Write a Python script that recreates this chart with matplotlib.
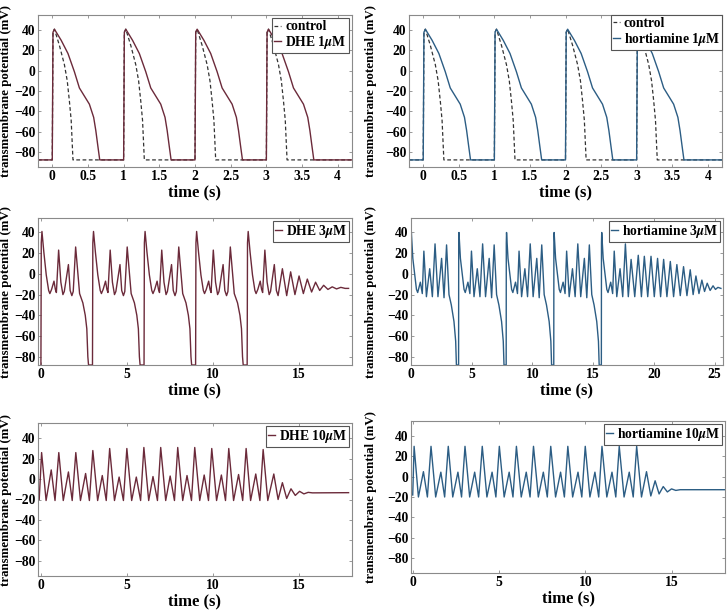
import matplotlib
matplotlib.use("Agg")
import matplotlib.pyplot as plt

plt.rcParams["font.family"] = ["Liberation Serif", "DejaVu Serif"]
plt.rcParams["font.weight"] = "bold"
plt.rcParams["axes.labelweight"] = "bold"
plt.rcParams["mathtext.fontset"] = "stix"

DHE_COLOR = "#6b2a3a"
HORT_COLOR = "#2c5d84"
CTRL_COLOR = "#333333"
REST = -88

# --- 1 uM: paced beats, times relative to beat onset (s), voltage (mV) ---
ONSETS_1UM = [0, 1, 2, 3]
CTRL_T = [0.0, 0.01, 0.03, 0.10, 0.17, 0.21, 0.24, 0.265, 0.29]
CTRL_V = [-88, 38, 41, 25, 6, -10, -30, -49, -88]
DRUG1_T = [0.0, 0.01, 0.03, 0.125, 0.22, 0.31, 0.38, 0.45, 0.52, 0.58, 0.61, 0.64, 0.665]
DRUG1_V = [-88, 38, 41, 30, 17, -1, -17, -25, -33, -46, -59, -75, -88]

# --- DHE 3 uM: beats with EADs every 3 s, last beat decays into oscillation ---
DHE3_ONSETS = [0, 3, 6, 9]
DHE3_LAST = 12
DHE3_T = [0.0, 0.02, 0.06, 0.17, 0.31, 0.45, 0.52, 0.62, 0.76, 0.84, 0.90, 1.03, 1.16, 1.28,
          1.36, 1.60, 1.70, 1.80, 1.88, 2.02, 2.25, 2.44, 2.58, 2.67, 2.73, 2.77]
DHE3_V = [-88, 30, 41, 21, -1, -16, -19, -15, -7, -15, -18, 23, -8, -20,
          -17, 9, -16, -21, -17, 26, -19, -28, -40, -53, -80, -88]
DHE3_TAIL_T = [0.0, 0.02, 0.06, 0.17, 0.31, 0.45, 0.52, 0.62, 0.76, 0.84, 0.90, 1.03, 1.16,
               1.28, 1.36, 1.58, 1.70, 1.80, 2.05, 2.30, 2.53, 2.78, 3.02, 3.27, 3.50,
               3.75, 3.98, 4.22, 4.45, 4.70, 4.95, 5.20, 5.45, 5.70, 5.90]
DHE3_TAIL_V = [-88, 30, 41, 21, -1, -16, -19, -15, -7, -15, -18, 23, -8,
               -20, -17, 9, -16, -21, 5, -21, 2, -20, -2, -19, -5,
               -17.5, -8, -16, -11, -15, -12.5, -14.5, -13, -14, -14]

# --- hortiamine 3 uM ---
HORT3_ONSETS = [0, 3.92, 7.84, 11.76]
HORT3_LAST = 15.68
HORT3_T = [0.0, 0.01, 0.03, 0.15, 0.30, 0.45, 0.55, 0.77, 0.93, 1.06, 1.27, 1.54,
           1.76, 1.98, 2.22, 2.52, 2.72, 2.93, 3.13, 3.32, 3.54, 3.68, 3.74]
HORT3_V = [-88, 30, 40, 15, 0, -15, -18, -8, -19, 22, -22, 5,
           -22, 29, -22, 15, -23, 28, -20, -30, -46, -65, -88]
HORT3_TAIL_T = [0.0, 0.01, 0.03, 0.15, 0.30, 0.45, 0.55, 0.77, 0.93, 1.06, 1.27, 1.54,
                1.76, 1.98, 2.22, 2.45, 2.75, 3.04, 3.30, 3.54, 3.82, 4.09, 4.36, 4.63,
                4.88, 5.13, 5.40, 5.68, 5.95, 6.22, 6.50, 6.77, 7.05, 7.32, 7.56, 7.79,
                8.04, 8.28, 8.50, 8.72, 8.96, 9.20, 9.40, 9.60, 9.85]
HORT3_TAIL_V = [-88, 30, 40, 15, 0, -15, -18, -8, -19, 22, -22, 5,
                -22, 29, -22, 14, -22, 18, -22, 17, -22, 17, -22, 15,
                -22, 14, -22, 12, -22, 9, -21, 7, -21, 4, -20, -2,
                -19, -6, -17, -9, -16, -11.5, -15, -13, -14]

# --- 10 uM: alternating spike / small oscillation, then damped ---
DHE10_T = [-0.1, 0.04, 0.30, 0.60, 0.82, 1.04, 1.30, 1.60, 1.82, 2.03, 2.30, 2.60, 2.82,
           3.02, 3.30, 3.57, 3.80, 4.00, 4.28, 4.55, 4.80, 5.00, 5.28, 5.55, 5.80,
           5.99, 6.27, 6.52, 6.78, 6.97, 7.26, 7.52, 7.77, 7.96, 8.25, 8.50, 8.76,
           8.95, 9.24, 9.50, 9.75, 9.94, 10.22, 10.50, 10.74, 10.93, 11.21, 11.50, 11.74,
           11.94, 12.20, 12.50, 12.74, 12.93, 13.20, 13.55, 13.80, 14.05, 14.30, 14.55,
           14.80, 15.05, 15.30, 15.55, 15.80, 17.90]
DHE10_V = [-20, 26, -21, 9, -21, 26, -21, 7, -21, 26, -21, 5.5, -21,
           28, -21, 3.5, -21, 30, -21, 2, -21, 30, -21, 2, -21,
           31, -21, 2.5, -21, 31, -21, 3, -21, 31, -21, 3.5, -21,
           31, -21, 4, -21, 30, -21, 4, -21, 30, -21, 4.5, -21,
           30, -21, 5, -21, 29, -21, 5, -20, -3.5, -19, -9.5,
           -16, -12, -14.5, -13, -13.5, -13.3]
HORT10_T = [0.0, 0.08, 0.33, 0.62, 0.85, 1.06, 1.33, 1.63, 1.85, 2.06, 2.32, 2.62, 2.83,
            3.03, 3.30, 3.59, 3.82, 4.03, 4.30, 4.60, 4.82, 5.02, 5.30, 5.59, 5.81,
            6.01, 6.29, 6.58, 6.80, 7.00, 7.28, 7.57, 7.80, 8.00, 8.28, 8.57, 8.79,
            8.99, 9.27, 9.58, 9.80, 10.00, 10.27, 10.56, 10.78, 10.97, 11.25, 11.55, 11.77,
            11.97, 12.25, 12.55, 12.78, 12.98, 13.26, 13.55, 13.80, 14.05, 14.28, 14.52,
            14.76, 15.00, 15.25, 15.50, 18.10]
HORT10_V = [-18, 30, -20, 5, -20, 30, -20, 4.5, -20, 30, -20, 4.5, -20,
            30, -20, 4.5, -20, 30, -20, 4.5, -20, 30, -20, 4.5, -20,
            30, -20, 4.5, -20, 30, -20, 4.5, -20, 30, -20, 4.5, -20,
            30, -20, 4.5, -20, 30, -20, 4.5, -20, 30, -20, 4.5, -20,
            30, -20, 4.5, -20, 30, -20, 5, -19, -4, -17, -9.7,
            -15, -12, -13.5, -12.8, -12.8]

Y_TICKS = [-80, -60, -40, -20, 0, 20, 40]
X_TICKS_1UM = [0, 0.5, 1, 1.5, 2, 2.5, 3, 3.5, 4]
X_TICK_LABELS_1UM = ["0", "0.5", "1", "1.5", "2", "2.5", "3", "3.5", "4"]
X_TICKS_18 = [0, 5, 10, 15]
X_TICKS_26 = [0, 5, 10, 15, 20, 25]


def paced(onsets, beat_t, beat_v, t0, t1):
    t, v = [t0], [REST]
    for on in onsets:
        t += [on + x for x in beat_t]
        v += list(beat_v)
    if t1 is not None:
        t.append(t1)
        v.append(REST)
    return t, v


def rect(x0, y0, x1, y1, W=727, H=613):
    return [x0 / W, 1 - y1 / H, (x1 - x0) / W, (y1 - y0) / H]


def style(ax, xlim, ylim, xticks, xlabels=None, ylab_x=-0.08):
    ax.set_xlim(*xlim)
    ax.set_ylim(*ylim)
    ax.set_xticks(xticks)
    if xlabels is not None:
        ax.set_xticklabels(xlabels)
    ax.set_yticks(Y_TICKS)
    ax.tick_params(direction="in", length=2.5, width=0.6, color="#888888",
                   top=True, right=True, labelsize=9.8, pad=2)
    for s in ax.spines.values():
        s.set_color("#8a8a8a")
        s.set_linewidth(0.8)
    ax.set_xlabel("time (s)", fontsize=12, labelpad=1)
    ax.set_ylabel("transmembrane potential (mV)", fontsize=9.3)
    ax.yaxis.set_label_coords(ylab_x, 0.5)


def legend(ax, pad):
    leg = ax.legend(loc="upper right", fontsize=9.8, handlelength=0.5, handletextpad=0.3,
                    borderpad=0.15, labelspacing=0.05, borderaxespad=pad,
                    fancybox=False, framealpha=1, edgecolor="#555555")
    leg.get_frame().set_linewidth(0.8)


fig = plt.figure(figsize=(7.27, 6.13), dpi=100)

# row 1
for box, color, name, pad, lx in [((38, 15, 352, 167), DHE_COLOR, r"DHE 1$\mu$M", 0.25, -0.082),
                                  ((409, 15, 722, 167), HORT_COLOR, r"hortiamine 1$\mu$M", 0.0, -0.102)]:
    ax = fig.add_axes(rect(*box))
    ct, cv = paced(ONSETS_1UM, CTRL_T, CTRL_V, -0.2, 4.2)
    dt, dv = paced(ONSETS_1UM, DRUG1_T, DRUG1_V, -0.2, 4.2)
    ax.plot(ct, cv, "--", color=CTRL_COLOR, lw=0.9, dashes=(3, 2), label="control")
    ax.plot(dt, dv, color=color, lw=1.0, label=name)
    style(ax, (-0.2, 4.2), (-95, 55), X_TICKS_1UM, X_TICK_LABELS_1UM, lx)
    legend(ax, pad)

# row 2
ax = fig.add_axes(rect(38, 218, 352, 365))
t, v = paced(DHE3_ONSETS, DHE3_T, DHE3_V, 0.0, None)
t = t[1:] + [DHE3_LAST + x for x in DHE3_TAIL_T]
v = v[1:] + DHE3_TAIL_V
ax.plot(t, v, color=DHE_COLOR, lw=1.0, label=r"DHE 3$\mu$M")
style(ax, (-0.17, 18.1), (-88, 54), X_TICKS_18, ylab_x=-0.082)
legend(ax, 0.2)

ax = fig.add_axes(rect(411, 218, 723, 365))
t, v = paced(HORT3_ONSETS, HORT3_T, HORT3_V, 0.0, None)
t = t[1:] + [HORT3_LAST + x for x in HORT3_TAIL_T]
v = v[1:] + HORT3_TAIL_V
ax.plot(t, v, color=HORT_COLOR, lw=1.0, label=r"hortiamine 3$\mu$M")
style(ax, (0, 25.7), (-88, 54), X_TICKS_26, ylab_x=-0.108)
legend(ax, 0.2)

# row 3
ax = fig.add_axes(rect(38, 423, 352, 576))
ax.plot(DHE10_T, DHE10_V, color=DHE_COLOR, lw=1.0, label=r"DHE 10$\mu$M")
style(ax, (-0.17, 18.1), (-95, 55), X_TICKS_18, ylab_x=-0.082)
legend(ax, 0.2)

ax = fig.add_axes(rect(411, 421, 725, 573))
ax.plot(HORT10_T, HORT10_V, color=HORT_COLOR, lw=1.0, label=r"hortiamine 10$\mu$M")
style(ax, (-0.1, 18.1), (-95, 55), X_TICKS_18, ylab_x=-0.108)
legend(ax, 0.2)

fig.savefig("out.png", dpi=100)
